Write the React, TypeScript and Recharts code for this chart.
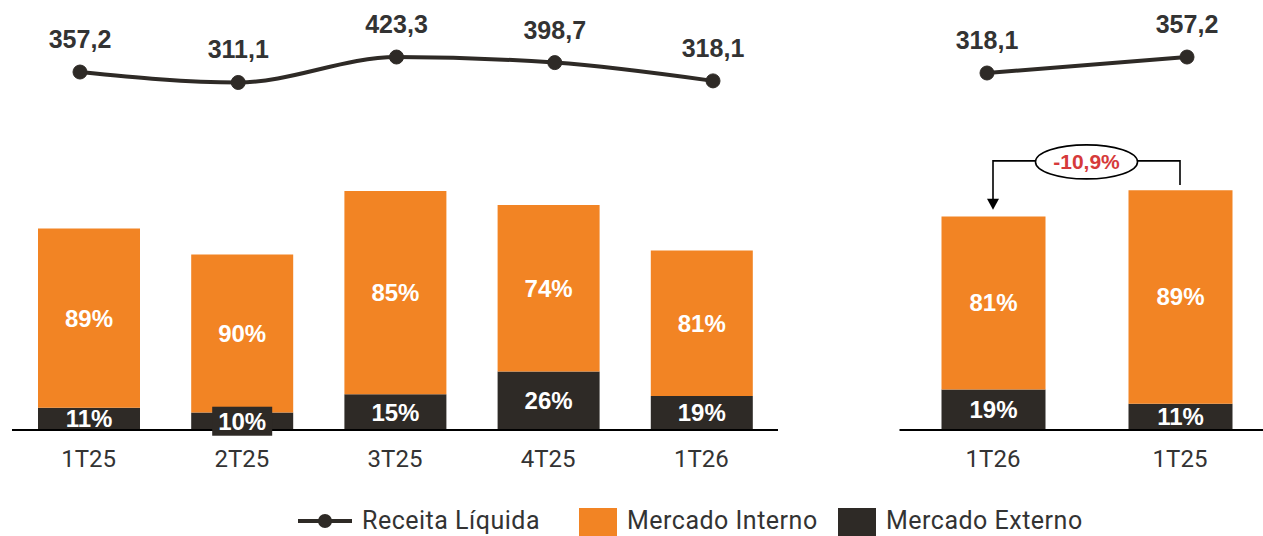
import React from 'react'
import { BarChart, Bar, LineChart, Line, XAxis, YAxis, LabelList } from 'recharts'

// periods
const leftQuarters = ['1T25', '2T25', '3T25', '4T25', '1T26']
const rightQuarters = ['1T26', '1T25']

// Receita Líquida (R$ mi)
const leftReceita = [357.2, 311.1, 423.3, 398.7, 318.1]
const rightReceita = [318.1, 357.2]

// split by market
const leftInterno = [317.9, 280.0, 359.8, 295.0, 257.7]
const leftExterno = [39.3, 31.1, 63.5, 103.7, 60.4]
const rightInterno = [257.7, 317.9]
const rightExterno = [60.4, 39.3]

const leftInternoPct = ['89%', '90%', '85%', '74%', '81%']
const leftExternoPct = ['11%', '10%', '15%', '26%', '19%']
const rightInternoPct = ['81%', '89%']
const rightExternoPct = ['19%', '11%']

const ORANGE = '#F28424'
const DARK = '#2E2A26'
const TEXT = '#333333'
const BOLD_FONT = '"Liberation Sans", Arial, sans-serif'
const TICK_FONT = 'Roboto, sans-serif'

const leftBars = leftQuarters.map((q, i) => ({ q, interno: leftInterno[i], externo: leftExterno[i] }))
const rightBars = rightQuarters.map((q, i) => ({ q, interno: rightInterno[i], externo: rightExterno[i] }))
const leftLine = leftQuarters.map((q, i) => ({ q, receita: leftReceita[i] }))
const rightLine = rightQuarters.map((q, i) => ({ q, receita: rightReceita[i] }))

const makePctLabel = (texts: string[], boxed: boolean) => (props: any) => {
  const { x, y, width, height, index } = props
  const cx = Number(x) + Number(width) / 2
  const cy = Number(y) + Number(height) / 2
  const small = boxed && Number(height) < 22
  return (
    <g>
      {small && <rect x={cx - 30} y={cy - 14.5} width={60} height={29} fill={DARK} />}
      <text x={cx} y={cy + 8.5} textAnchor="middle" fill="#fff" fontSize={24} fontWeight="bold" fontFamily={BOLD_FONT}>
        {texts[index]}
      </text>
    </g>
  )
}

const valueLabel = (props: any) => {
  const { x, y, value } = props
  return (
    <text x={x} y={Number(y) - 24} textAnchor="middle" fill={TEXT} fontSize={25} fontWeight="bold" fontFamily={BOLD_FONT}>
      {String(Number(value).toFixed(1)).replace('.', ',')}
    </text>
  )
}

const tickStyle = { fill: TEXT, fontSize: 24, fontFamily: TICK_FONT }
const legendText = { fill: TEXT, fontSize: 25, fontFamily: TICK_FONT, letterSpacing: 0.5 }

// right panel geometry (used for the variation bracket)
const R_LEFT = 890
const R_MARGIN_LEFT = 9.5
const R_PLOT_W = 374
const R_TOP = 128
const R_BOTTOM = 430
const Y_MAX = 450

export default function App() {
  const band = R_PLOT_W / rightQuarters.length
  const xA = R_LEFT + R_MARGIN_LEFT + band * 0.5
  const xB = R_LEFT + R_MARGIN_LEFT + band * 1.5
  const yOf = (v: number) => R_BOTTOM - (v / Y_MAX) * (R_BOTTOM - R_TOP)
  const yBracket = yOf(401)
  const yArrow = yOf(rightReceita[0] + 10)
  const yRightEnd = yOf(rightReceita[1] + 8)
  const midX = (xA + xB) / 2
  const variation = ((rightReceita[0] / rightReceita[1] - 1) * 100).toFixed(1).replace('.', ',') + '%'

  return (
    <div style={{ position: 'absolute', left: 0, top: 0, width: 1263, height: 536, overflow: 'hidden', background: '#fff' }}>
      {/* left panel bars */}
      <div style={{ position: 'absolute', left: 0, top: 0 }}>
        <BarChart width={790} height={480} data={leftBars} margin={{ top: 176, right: 12, bottom: 0, left: 12 }}>
          <XAxis dataKey="q" height={50} tickSize={0} tickMargin={20} tick={tickStyle} axisLine={{ stroke: '#000', strokeWidth: 2 }} tickLine={false} />
          <YAxis hide domain={[0, Y_MAX]} />
          <Bar dataKey="externo" stackId="a" fill={DARK} barSize={102} isAnimationActive={false}>
            <LabelList dataKey="externo" content={makePctLabel(leftExternoPct, true)} />
          </Bar>
          <Bar dataKey="interno" stackId="a" fill={ORANGE} barSize={102} isAnimationActive={false}>
            <LabelList dataKey="interno" content={makePctLabel(leftInternoPct, false)} />
          </Bar>
        </BarChart>
      </div>

      {/* left panel line */}
      <div style={{ position: 'absolute', left: 0, top: 0 }}>
        <LineChart width={793} height={120} data={leftLine} margin={{ top: 55.5, right: 80, bottom: 35, left: 80 }}>
          <XAxis dataKey="q" hide scale="point" padding={{ left: 0, right: 0 }} />
          <YAxis hide domain={[300, 430]} />
          <Line type="monotone" dataKey="receita" stroke={DARK} strokeWidth={4} dot={{ r: 7, fill: DARK, stroke: DARK, strokeWidth: 1 }} isAnimationActive={false}>
            <LabelList dataKey="receita" content={valueLabel} />
          </Line>
        </LineChart>
      </div>

      {/* right panel bars */}
      <div style={{ position: 'absolute', left: R_LEFT, top: 0 }}>
        <BarChart width={400} height={480} data={rightBars} margin={{ top: R_TOP, right: 16.5, bottom: 0, left: R_MARGIN_LEFT }}>
          <XAxis dataKey="q" height={50} tickSize={0} tickMargin={20} tick={tickStyle} axisLine={{ stroke: '#000', strokeWidth: 2 }} tickLine={false} />
          <YAxis hide domain={[0, Y_MAX]} />
          <Bar dataKey="externo" stackId="a" fill={DARK} barSize={104} isAnimationActive={false}>
            <LabelList dataKey="externo" content={makePctLabel(rightExternoPct, true)} />
          </Bar>
          <Bar dataKey="interno" stackId="a" fill={ORANGE} barSize={104} isAnimationActive={false}>
            <LabelList dataKey="interno" content={makePctLabel(rightInternoPct, false)} />
          </Bar>
        </BarChart>
      </div>

      {/* right panel line */}
      <div style={{ position: 'absolute', left: R_LEFT, top: 0 }}>
        <LineChart width={400} height={120} data={rightLine} margin={{ top: 47.7, right: 103, bottom: 39.6, left: 97 }}>
          <XAxis dataKey="q" hide scale="point" padding={{ left: 0, right: 0 }} />
          <YAxis hide domain={[300, 380]} />
          <Line type="linear" dataKey="receita" stroke={DARK} strokeWidth={4} dot={{ r: 7, fill: DARK, stroke: DARK, strokeWidth: 1 }} isAnimationActive={false}>
            <LabelList dataKey="receita" content={valueLabel} />
          </Line>
        </LineChart>
      </div>

      {/* variation bracket + legend */}
      <svg width={1263} height={536} style={{ position: 'absolute', left: 0, top: 0, pointerEvents: 'none' }}>
        <polyline points={`${xA},${yArrow - 10} ${xA},${yBracket} ${xB},${yBracket} ${xB},${yRightEnd}`} fill="none" stroke="#000" strokeWidth={1.6} />
        <polygon points={`${xA - 6},${yArrow - 11} ${xA + 6},${yArrow - 11} ${xA},${yArrow}`} fill="#000" />
        <ellipse cx={midX} cy={yBracket + 1} rx={51} ry={17} fill="#fff" stroke="#000" strokeWidth={1.6} />
        <text x={midX} y={yBracket + 8.5} textAnchor="middle" fill="#D63A3A" fontSize={21} fontWeight="bold" fontFamily={BOLD_FONT}>
          {variation}
        </text>

        <line x1={298} y1={521} x2={352} y2={521} stroke={DARK} strokeWidth={4} />
        <circle cx={325} cy={521} r={7} fill={DARK} />
        <text x={362} y={529} {...legendText}>Receita Líquida</text>
        <rect x={579} y={508} width={38} height={28} fill={ORANGE} />
        <text x={627} y={529} {...legendText}>Mercado Interno</text>
        <rect x={838} y={508} width={38} height={28} fill={DARK} />
        <text x={886} y={529} {...legendText}>Mercado Externo</text>
      </svg>
    </div>
  )
}
